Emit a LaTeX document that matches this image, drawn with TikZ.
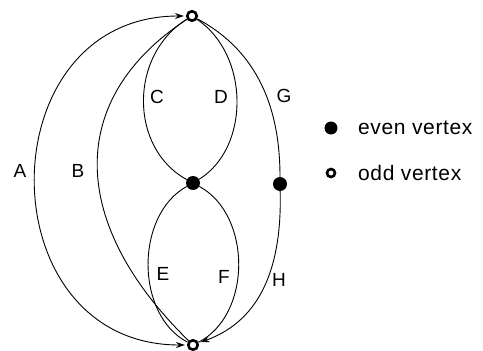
\documentclass[tikz,border=0pt]{standalone}
\usepackage{fontspec}
\setmainfont{Liberation Sans}
\usetikzlibrary{arrows.meta}
\tikzset{
  oddv/.style={circle,draw=black,line width=2.6pt,fill=white,inner sep=0pt,minimum size=9.5pt},
  evenv/.style={circle,fill=black,inner sep=0pt,minimum size=14pt},
  edge/.style={line width=0.9pt,black},
  tip/.style={-{Stealth[length=9pt,width=6pt]},shorten >=2pt},
  bitip/.style={{Stealth[length=9pt,width=6pt]}-{Stealth[length=9pt,width=6pt]},shorten >=2pt,shorten <=2pt},
  lbl/.style={font=\fontsize{19}{22}\selectfont,inner sep=0pt},
  legtext/.style={font=\fontsize{21}{24}\selectfont\addfontfeatures{LetterSpace=3},anchor=west,inner sep=0pt}
}
\begin{document}
\begin{tikzpicture}[x=1pt,y=-1pt]
\useasboundingbox (0,0) rectangle (483,351);
% vertices
\node[oddv] (top) at (192,16) {};
\node[evenv] (mid) at (193,183) {};
\node[oddv] (bot) at (193,345) {};
\node[evenv] (rv) at (280,184) {};
% edges
\draw[edge,bitip] (bot) .. controls (-14,345) and (-14,16) .. (top);
\draw[edge] (top) .. controls (64,100) and (70,225) .. (bot);
\draw[edge] (top) .. controls (129,55) and (129,148) .. (mid);
\draw[edge] (top) .. controls (250,55) and (250,148) .. (mid);
\draw[edge] (mid) .. controls (135,215) and (135,315) .. (bot);
\draw[edge] (mid) .. controls (252,215) and (252,315) .. (bot);
\draw[edge] (top) .. controls (265,55) and (280,120) .. (rv);
\draw[edge,tip] (rv) .. controls (282,265) and (262,320) .. (bot);
% labels
\node[lbl] (la) at (20,171) {A};
\node[lbl] (lb) at (78,171) {B};
\node[lbl] (lc) at (157,97) {C};
\node[lbl] (ld) at (221,97) {D};
\node[lbl] (lg) at (284,96) {G};
\node[lbl] (le) at (163,274) {E};
\node[lbl] (lf) at (224,277) {F};
\node[lbl] (lh) at (279,280) {H};
% legend
\node[evenv,minimum size=13pt] (leven) at (331,128) {};
\node[legtext] (teven) at (358,128) {even vertex};
\node[oddv,minimum size=8pt] (lodd) at (331,173) {};
\node[legtext] (todd) at (358,173) {odd vertex};
\end{tikzpicture}
\end{document}
